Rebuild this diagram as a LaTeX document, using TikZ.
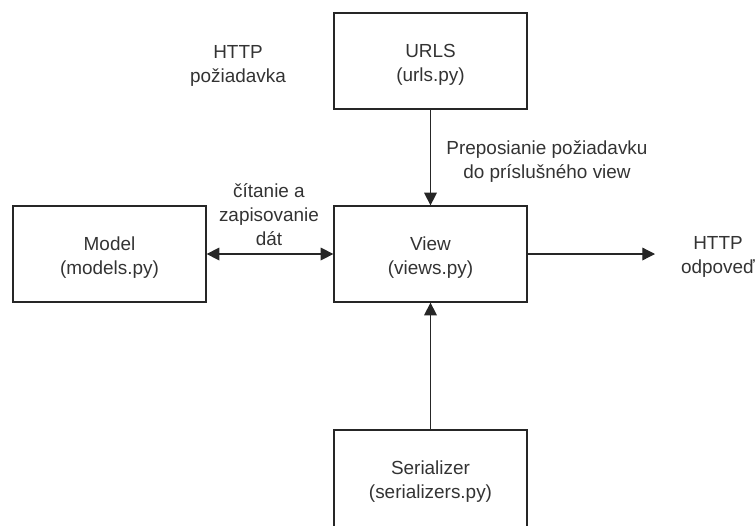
\documentclass[tikz,border=0pt]{standalone}
\usepackage{fontspec}
\setmainfont{Liberation Sans}
\usetikzlibrary{arrows.meta}
\newcommand{\lowerbox}{\rule{0pt}{15.5pt}}
\tikzset{
  x=0.75pt,y=-0.75pt,
  boxn/.style={draw=black!85,line width=0.95pt,minimum width=144.75pt,minimum height=72pt,inner sep=0pt,align=center,font=\fontsize{14.2pt}{18pt}\selectfont,text=black!80},
  lbl/.style={align=center,inner sep=0pt,font=\fontsize{14.2pt}{18pt}\selectfont,text=black!80},
  conn/.style={draw=black!85,line width=0.95pt,-{Triangle[length=9.5pt,width=9.5pt]}},
  biconn/.style={draw=black!85,line width=0.95pt,{Triangle[length=9.5pt,width=9.5pt]}-{Triangle[length=9.5pt,width=9.5pt]}}
}
\begin{document}
\begin{tikzpicture}
\useasboundingbox (0,0) rectangle (756,525);
\clip (0,0) rectangle (756,525);
\node[boxn] (urls) at (430.5,61) {\lowerbox URLS\\(urls.py)};
\node[boxn] (model) at (109.5,254) {\lowerbox Model\\(models.py)};
\node[boxn] (view) at (430.5,254) {\lowerbox View\\(views.py)};
\node[boxn,minimum height=72.75pt] (ser) at (430.5,478.5) {\lowerbox Serializer\\(serializers.py)};
\node[lbl] (req) at (238,66) {HTTP\\požiadavka};
\node[lbl] (resp) at (718,257) {HTTP\\odpoveď};
\node[lbl] (rw) at (269,215) {čítanie a\\zapisovanie\\dát};
\node[lbl] (fwd) at (547,161.5) {Preposianie požiadavku\\do príslušného view};
\coordinate (respend) at (655,254);
\draw[conn] (urls) -- (view);
\draw[biconn] (model) -- (view);
\draw[conn] (ser) -- (view);
\draw[conn] (view) -- (respend);
\end{tikzpicture}
\end{document}
